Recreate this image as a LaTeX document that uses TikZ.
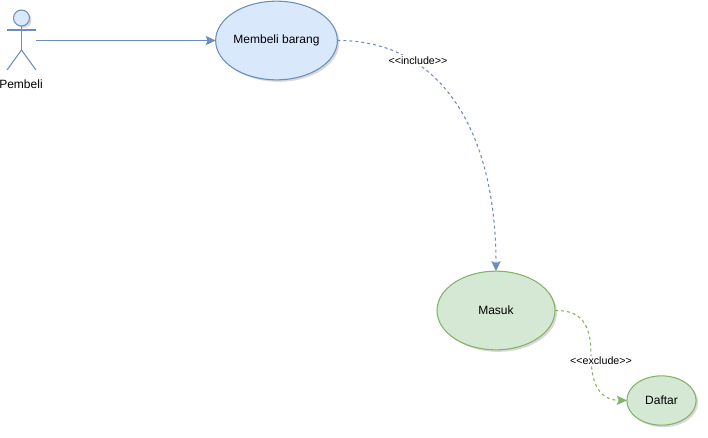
\documentclass[tikz,border=0pt]{standalone}
\usepackage{fontspec}
\setmainfont{Liberation Sans}
\usetikzlibrary{arrows.meta}
\usetikzlibrary{shapes.geometric}
\usetikzlibrary{shadows}
\definecolor{bluefill}{HTML}{DAE8FC}
\definecolor{blueline}{HTML}{6C8EBF}
\definecolor{greenfill}{HTML}{D5E8D4}
\definecolor{greenline}{HTML}{82B366}

\begin{document}
\begin{tikzpicture}[x=.75pt,y=-.75pt,inner sep=0pt,outer sep=0pt,thick,font=\fontsize{9}{11}\selectfont,
usecase/.style={draw,ellipse,inner sep=0pt,drop shadow={shadow xshift=1.5pt,shadow yshift=-1.5pt,opacity=.3}},
bluecase/.style={usecase,draw=blueline,fill=bluefill,minimum width=88.5pt,minimum height=59pt},
greencase/.style={usecase,draw=greenline,fill=greenfill},
tag/.style={fill=white,inner sep=1pt,font=\fontsize{8}{10}\selectfont},
tip/.style={-{Stealth[length=7.5pt,width=7pt,inset=1.5pt]}},
dots/.style={dash pattern=on 2.25pt off 2.25pt}]

\useasboundingbox (0,0) rectangle (708,437);

\draw (21.5,18) node[usecase,circle,draw=blueline,fill=bluefill,minimum size=12pt] (head) {};
\coordinate (neck) at (21.5,50);
\coordinate (handl) at (7,30);
\coordinate (handr) at (36,30);
\coordinate (footl) at (7,70);
\coordinate (footr) at (36,70);
\coordinate (start) at (36,40.5);
\coordinate (bend) at (591,355);
\draw[blueline] (head) -- (neck);
\draw[blueline] (handl) -- (handr);
\draw[blueline] (footl) -- (neck) -- (footr);
\draw (21,84) node (pembeli) {Pembeli};

\draw (276.5,40.5) node[bluecase] (beli) {Membeli barang};
\draw (496,310.5) node[greencase,minimum width=88.5pt,minimum height=59pt] (masuk) {Masuk};
\draw (661.5,400.5) node[greencase,minimum width=52pt,minimum height=37pt] (daftar) {Daftar};

\draw[tip,blueline] (start) -- (beli.west);
\draw[tip,blueline,dots] (beli.east) .. controls (440,40) and (496,130) .. (masuk.north);
\draw[tip,greenline,dots] (masuk.east) .. controls (582,310) and (591,325) .. (bend) .. controls (591,385) and (600,400) .. (daftar.west);

\draw (418,60.5) node[tag] (inc) {<{}<include>{}>};
\draw (601,361) node[tag] (exc) {<{}<exclude>{}>};
\end{tikzpicture}
\end{document}
